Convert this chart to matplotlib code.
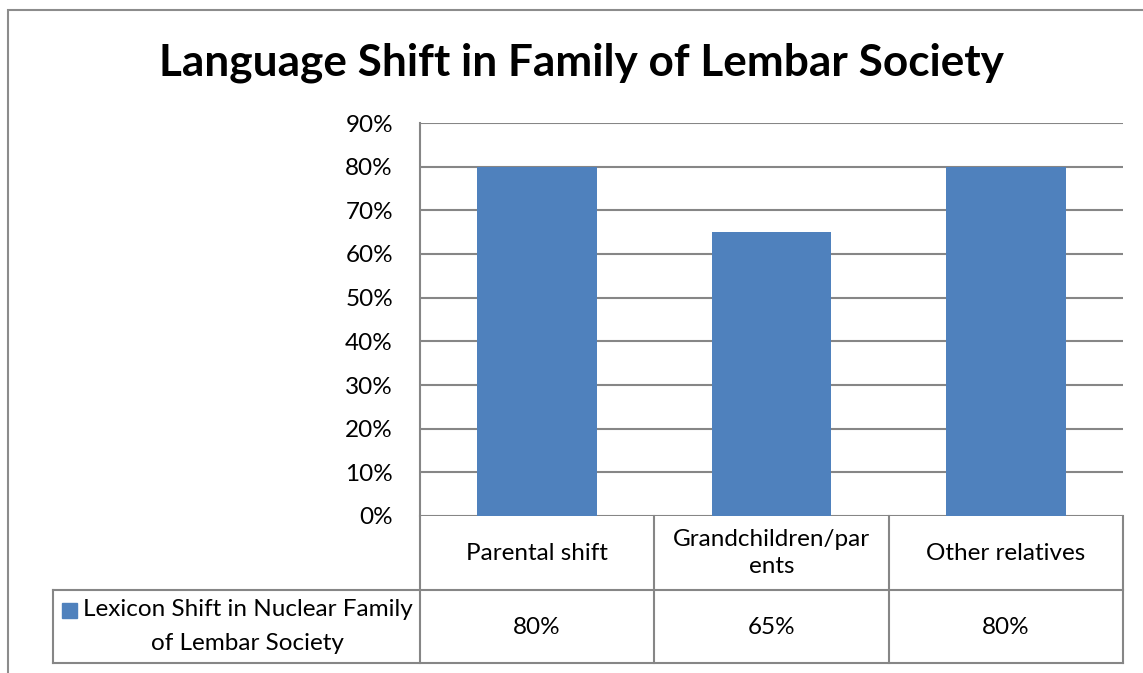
import numpy as np
import matplotlib
matplotlib.use("Agg")
import matplotlib.pyplot as plt
import matplotlib.patches as mpatches
from matplotlib.lines import Line2D

plt.rcParams['font.family'] = ['Lato', 'DejaVu Sans']

title = "Language Shift in Family of Lembar Society"
categories = ["Parental shift", "Grandchildren/par\nents", "Other relatives"]
values = [0.80, 0.65, 0.80]
value_labels = ["80%", "65%", "80%"]
series_name = ["Lexicon Shift in Nuclear Family", "of Lembar Society"]
yticks = [0.0, 0.1, 0.2, 0.3, 0.4, 0.5, 0.6, 0.7, 0.8, 0.9]

W, H = 1143, 673
bar_color = '#4F81BD'
grid_color = '#868686'
fs = 17.5

fig = plt.figure(figsize=(W / 100, H / 100), dpi=100)


def fx(px):
    return px / W


def fy(py):
    return 1 - py / H


# outer chart border
fig.add_artist(mpatches.Rectangle((fx(8), fy(700)), fx(1200), fy(10) - fy(700),
                                  transform=fig.transFigure, fill=False,
                                  ec='#8c8c8c', lw=1.5))

fig.text(fx(581), fy(63), title, ha='center', va='center',
         fontsize=31.8, fontweight='bold')

left, right, top, bot = 420, 1123, 123, 516
ax = fig.add_axes([fx(left), fy(bot), fx(right - left), fy(top) - fy(bot)])
x = np.arange(len(categories))
ax.bar(x, values, width=0.51, color=bar_color, zorder=3)
ax.set_xlim(-0.5, len(categories) - 0.5)
ax.set_ylim(0, 0.9)
ax.set_yticks(yticks)
ax.set_yticklabels([f"{int(round(t * 100))}%" for t in yticks], fontsize=fs)
ax.tick_params(axis='y', length=0, pad=19.5)
ax.set_xticks([])
for t in yticks:
    ax.axhline(t, color=grid_color, lw=1.5, zorder=1)
for s in ['top', 'right', 'bottom']:
    ax.spines[s].set_visible(False)
ax.spines['left'].set_color(grid_color)
ax.spines['left'].set_linewidth(1.5)

# data table under the plot
row1, row2 = 590, 663
col_edges = [left + (right - left) * i / len(categories) for i in range(len(categories) + 1)]
lc = dict(color=grid_color, lw=1.5, transform=fig.transFigure)
fig.add_artist(Line2D([fx(left), fx(left)], [fy(bot), fy(row2)], **lc))
for ce in col_edges[1:]:
    fig.add_artist(Line2D([fx(ce), fx(ce)], [fy(bot), fy(row2)], **lc))
fig.add_artist(Line2D([fx(53), fx(right)], [fy(row1), fy(row1)], **lc))
fig.add_artist(Line2D([fx(53), fx(right)], [fy(row2), fy(row2)], **lc))
fig.add_artist(Line2D([fx(53), fx(53)], [fy(row1), fy(row2)], **lc))

for i, (cat, lab) in enumerate(zip(categories, value_labels)):
    cx = (col_edges[i] + col_edges[i + 1]) / 2
    fig.text(fx(cx), fy(553), cat, ha='center', va='center', fontsize=fs,
             linespacing=1.35)
    fig.text(fx(cx), fy(627), lab, ha='center', va='center', fontsize=fs)

fig.add_artist(mpatches.Rectangle((fx(62), fy(618)), fx(15), fy(603) - fy(618),
                                  transform=fig.transFigure, color=bar_color))
fig.text(fx(83), fy(610), series_name[0], ha='left', va='center', fontsize=fs)
fig.text(fx(247), fy(643), series_name[1], ha='center', va='center', fontsize=fs)

fig.savefig("out.png", dpi=100)
